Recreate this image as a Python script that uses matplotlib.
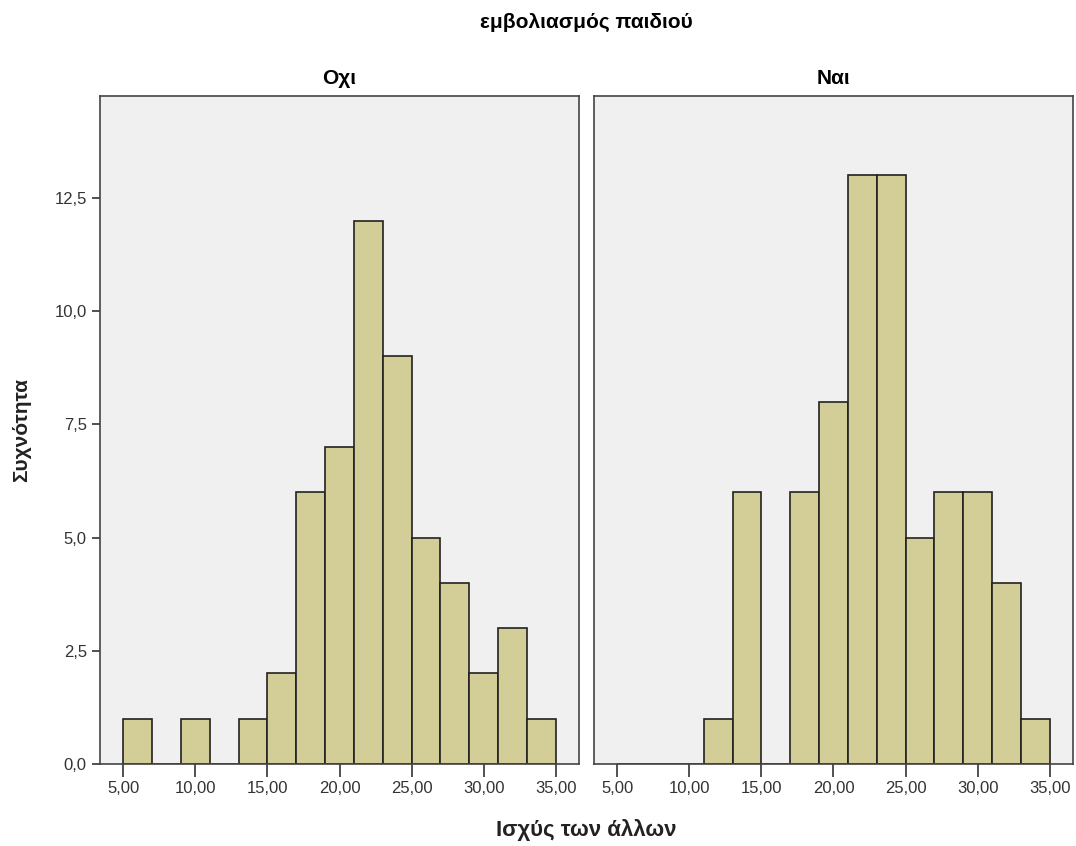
import matplotlib.pyplot as plt
import numpy as np

# bin left edges (width 2) and frequencies per group
bin_lefts = [5, 7, 9, 11, 13, 15, 17, 19, 21, 23, 25, 27, 29, 31, 33]
counts_no = [1, 0, 1, 0, 1, 2, 6, 7, 12, 9, 5, 4, 2, 3, 1]
counts_yes = [0, 0, 0, 1, 6, 0, 6, 8, 13, 13, 5, 6, 6, 4, 1]
groups = ['Οχι', 'Ναι']
xticks = [5, 10, 15, 20, 25, 30, 35]
yticks = [0, 2.5, 5, 7.5, 10, 12.5]

BAR_COLOR = '#d3ce97'
BG_COLOR = '#f0f0f0'
EDGE = '#222222'

plt.rcParams['font.family'] = ['Liberation Sans', 'DejaVu Sans']

fig = plt.figure(figsize=(10.76, 8.46), dpi=100)
panels = [
    fig.add_axes([100 / 1076, 82 / 846, 479 / 1076, 668 / 846]),
    fig.add_axes([594 / 1076, 82 / 846, 479 / 1076, 668 / 846]),
]

for i, (ax, counts, name) in enumerate(zip(panels, [counts_no, counts_yes], groups)):
    ax.set_facecolor(BG_COLOR)
    ax.bar(bin_lefts, counts, width=2, align='edge', color=BAR_COLOR,
           edgecolor=EDGE, linewidth=1.2, zorder=2)
    ax.set_xlim(3.4, 36.6)
    ax.set_ylim(0, 14.75)
    ax.set_xticks(xticks)
    ax.set_xticklabels([f'{v:.2f}'.replace('.', ',') for v in xticks],
                       fontsize=12, color='#333333')
    ax.tick_params(axis='x', direction='out', length=9, width=1.2, color='#333333')
    if i == 0:
        ax.set_yticks(yticks)
        ax.set_yticklabels([f'{v:.1f}'.replace('.', ',') for v in yticks],
                           fontsize=12, color='#333333')
        ax.tick_params(axis='y', direction='out', length=6, width=1.2, color='#333333')
    else:
        ax.set_yticks([])
    for s in ax.spines.values():
        s.set_color('#444444')
        s.set_linewidth(1.2)
    ax.set_title(name, fontsize=15, fontweight='bold', pad=9)

fig.text(586 / 1076, 1 - 22 / 846, 'εμβολιασμός παιδιού', ha='center', va='center',
         fontsize=15, fontweight='bold')
fig.text(586 / 1076, 1 - 830 / 846, 'Ισχύς των άλλων', ha='center', va='center',
         fontsize=16, fontweight='bold', color='#222222')
fig.text(22 / 1076, 1 - 430 / 846, 'Συχνότητα', ha='center', va='center',
         rotation=90, fontsize=15, fontweight='bold', color='#222222')

fig.savefig('out.png', dpi=100)
